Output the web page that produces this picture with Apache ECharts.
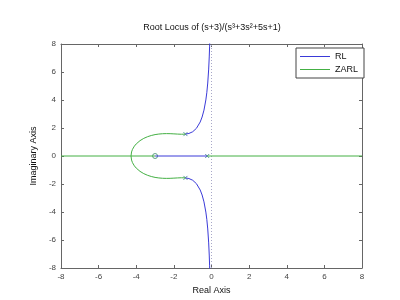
<!DOCTYPE html>
<html>
<head>
<meta charset="utf-8">
<script src="https://cdn.jsdelivr.net/npm/echarts@6/dist/echarts.min.js"></script>
<style>html,body{margin:0;padding:0;background:#fff}#c{width:400px;height:300px}</style>
</head>
<body>
<div id="c"></div>
<script>
const xTicks = [-8, -6, -4, -2, 0, 2, 4, 6, 8];
const yTicks = [-8, -6, -4, -2, 0, 2, 4, 6, 8];
const poleRe = [-0.229, -1.385, -1.385];
const poleIm = [0, 1.564, -1.564];
const zeroRe = [-3];
const zeroIm = [0];
// RL (K>0) real-axis segment
const rlRealRe = [-3, -0.229];
const rlRealIm = [0, 0];
// RL upper branch
const rlUpRe = [-1.385, -1.2, -1.0, -0.8, -0.6, -0.5, -0.4, -0.3, -0.25, -0.2, -0.15, -0.12, -0.1, -0.095];
const rlUpIm = [1.564, 1.610, 1.732, 1.977, 2.430, 2.784, 3.277, 4.005, 4.521, 5.212, 6.208, 7.074, 7.848, 8.077];
// RL lower branch
const rlLoRe = [-1.385, -1.2, -1.0, -0.8, -0.6, -0.5, -0.4, -0.3, -0.25, -0.2, -0.15, -0.12, -0.1, -0.095];
const rlLoIm = [-1.564, -1.610, -1.732, -1.977, -2.430, -2.784, -3.277, -4.005, -4.521, -5.212, -6.208, -7.074, -7.848, -8.077];
// ZARL (K<0) real-axis segments
const zaLeftRe = [-8, -3];
const zaLeftIm = [0, 0];
const zaRightRe = [-0.229, 8];
const zaRightIm = [0, 0];
// ZARL upper branch
const zaUpRe = [-1.385, -1.6, -1.8, -2.0, -2.2, -2.4, -2.6, -2.8, -3.0, -3.2, -3.4, -3.6, -3.8, -4.0, -4.1, -4.2, -4.25, -4.27, -4.279];
const zaUpIm = [1.564, 1.554, 1.565, 1.581, 1.594, 1.599, 1.591, 1.568, 1.528, 1.465, 1.378, 1.259, 1.096, 0.866, 0.705, 0.476, 0.291, 0.163, 0];
// ZARL lower branch
const zaLoRe = [-1.385, -1.6, -1.8, -2.0, -2.2, -2.4, -2.6, -2.8, -3.0, -3.2, -3.4, -3.6, -3.8, -4.0, -4.1, -4.2, -4.25, -4.27, -4.279];
const zaLoIm = [-1.564, -1.554, -1.565, -1.581, -1.594, -1.599, -1.591, -1.568, -1.528, -1.465, -1.378, -1.259, -1.096, -0.866, -0.705, -0.476, -0.291, -0.163, 0];
// asymptote
const asymRe = [0, 0];
const asymIm = [-8, 8];

const BLUE = '#3a3ad8';
const GREEN = '#44b044';
const zip = (a, b) => a.map((v, i) => [v, b[i]]);
const FONT = 'Liberation Sans';

function line(name, re, im, color, extra) {
  return Object.assign({
    name: name, type: 'line', data: zip(re, im), symbol: 'none',
    lineStyle: { color: color, width: 1 }, itemStyle: { color: color },
    animation: false, silent: true
  }, extra || {});
}
const crossPath = 'path://M0,0L10,10M10,0L0,10';

const chart = echarts.init(document.getElementById('c'), null, { renderer: 'canvas' });
chart.setOption({
  backgroundColor: '#fff',
  animation: false,
  textStyle: { fontFamily: FONT },
  title: {
    text: 'Root Locus of (s+3)/(s³+3s²+5s+1)',
    left: 207, top: 18, textAlign: 'center',
    textStyle: { fontSize: 9, fontWeight: 'normal', color: '#111', fontFamily: FONT }
  },
  legend: {
    orient: 'vertical', left: 296, top: 48,
    data: ['RL', 'ZARL'],
    icon: 'rect',
    itemWidth: 30, itemHeight: 1, itemGap: 4,
    padding: [4, 6, 4, 4],
    borderColor: '#444', borderWidth: 1, backgroundColor: '#fff',
    textStyle: { fontSize: 9, color: '#111', fontFamily: FONT }
  },
  grid: { left: 61, right: 38, top: 44, bottom: 32, containLabel: false },
  xAxis: [{
    type: 'value', min: -8, max: 8, interval: 2,
    name: 'Real Axis', nameLocation: 'middle', nameGap: 16,
    nameTextStyle: { fontSize: 9, color: '#111', fontFamily: FONT },
    axisLine: { onZero: false, lineStyle: { color: '#666' } },
    axisTick: { inside: true, length: 3, lineStyle: { color: '#666' } },
    axisLabel: { fontSize: 8, color: '#444', margin: 5, fontFamily: FONT },
    splitLine: { show: false }
  }, {
    type: 'value', min: -8, max: 8, interval: 2, position: 'top',
    axisLine: { onZero: false, lineStyle: { color: '#666' } },
    axisTick: { inside: true, length: 3, lineStyle: { color: '#666' } },
    axisLabel: { show: false }, splitLine: { show: false }
  }],
  yAxis: [{
    type: 'value', min: -8, max: 8, interval: 2,
    name: 'Imaginary Axis', nameLocation: 'middle', nameGap: 20,
    nameTextStyle: { fontSize: 9, color: '#111', fontFamily: FONT },
    axisLine: { onZero: false, lineStyle: { color: '#666' } },
    axisTick: { inside: true, length: 3, lineStyle: { color: '#666' } },
    axisLabel: { fontSize: 8, color: '#444', margin: 5, fontFamily: FONT },
    splitLine: { show: false }
  }, {
    type: 'value', min: -8, max: 8, interval: 2, position: 'right',
    axisLine: { onZero: false, lineStyle: { color: '#666' } },
    axisTick: { inside: true, length: 3, lineStyle: { color: '#666' } },
    axisLabel: { show: false }, splitLine: { show: false }
  }],
  series: [
    line('RL', rlRealRe, rlRealIm, BLUE),
    line('RL', rlUpRe, rlUpIm, BLUE),
    line('RL', rlLoRe, rlLoIm, BLUE),
    line('asym', asymRe, asymIm, '#a8a8c8', { lineStyle: { color: '#a8a8c8', width: 1, type: [1, 2] } }),
    line('ZARL', zaLeftRe, zaLeftIm, GREEN),
    line('ZARL', zaRightRe, zaRightIm, GREEN),
    line('ZARL', zaUpRe, zaUpIm, GREEN),
    line('ZARL', zaLoRe, zaLoIm, GREEN),
    {
      name: 'poles', type: 'scatter', data: zip(poleRe, poleIm),
      symbol: crossPath, symbolSize: 4, silent: true,
      itemStyle: { color: 'none', borderColor: '#3a7a8a', borderWidth: 1 }
    },
    {
      name: 'zeros', type: 'scatter', data: zip(zeroRe, zeroIm),
      symbol: 'circle', symbolSize: 5, silent: true,
      itemStyle: { color: 'none', borderColor: '#3a8a6a', borderWidth: 1 }
    }
  ]
});
</script>
</body>
</html>
